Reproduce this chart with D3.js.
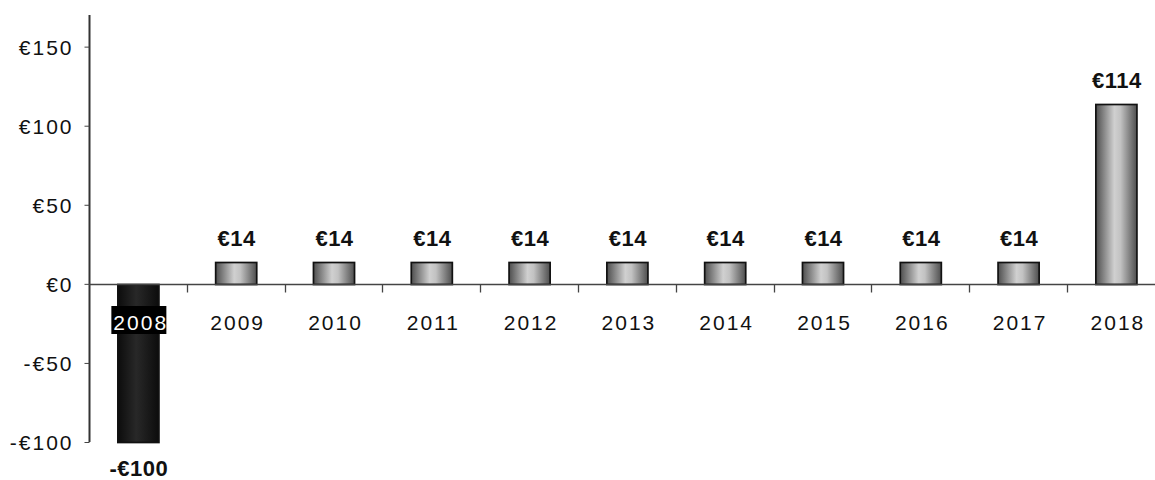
<!DOCTYPE html>
<html><head><meta charset="utf-8">
<script src="https://cdn.jsdelivr.net/npm/d3@7"></script>
<style>body{margin:0;background:#fff}svg{display:block}</style>
</head><body>
<svg id="c" width="1155" height="480"></svg>
<script>
const years = ["2008","2009","2010","2011","2012","2013","2014","2015","2016","2017","2018"];
const values = [-100,14,14,14,14,14,14,14,14,14,114];
const valueLabels = ["-€100","€14","€14","€14","€14","€14","€14","€14","€14","€14","€114"];
const yTicks = [-100,-50,0,50,100,150];
const yTickLabels = ["-€100","-€50","€0","€50","€100","€150"];

const svg = d3.select("#c");
const defs = svg.append("defs");
const g1 = defs.append("linearGradient").attr("id","grey").attr("x1","0").attr("x2","1").attr("y1","0").attr("y2","0");
[["0%","#4e4e4e"],["45%","#d0d0d0"],["60%","#c2c2c2"],["100%","#4e4e4e"]].forEach(s=>g1.append("stop").attr("offset",s[0]).attr("stop-color",s[1]));
const g2 = defs.append("linearGradient").attr("id","dark").attr("x1","0").attr("x2","1").attr("y1","0").attr("y2","0");
[["0%","#0c0c0c"],["45%","#282828"],["100%","#0c0c0c"]].forEach(s=>g2.append("stop").attr("offset",s[0]).attr("stop-color",s[1]));

const x = d3.scaleBand().domain(years).range([89, 89 + 11*97.8]).paddingInner(0.58).paddingOuter(0.29);
const y = d3.scaleLinear().domain([-100,170]).range([442,15]);
const step = x.step();

const font = "'Liberation Sans', Arial, sans-serif";

// bars
svg.selectAll("rect.bar").data(values).enter().append("rect")
  .attr("class","bar")
  .attr("x",(d,i)=>x(years[i])+0.5)
  .attr("width",x.bandwidth())
  .attr("y",d=>Math.round(y(Math.max(0,d)))+0.5)
  .attr("height",d=>Math.abs(Math.round(y(d))-Math.round(y(0))))
  .attr("fill",d=>d<0?"url(#dark)":"url(#grey)")
  .attr("stroke","#111")
  .attr("stroke-width",1.7);

// y axis
const yAxis = d3.axisLeft(y).tickValues(yTicks).tickFormat((d,i)=>yTickLabels[i]).tickSize(5).tickPadding(11);
const ya = svg.append("g").attr("transform","translate(89.5,0)").call(yAxis);
ya.select(".domain").attr("d","M0,15V"+y(-100)).attr("stroke","#333").attr("stroke-width",2);
ya.selectAll(".tick line").attr("stroke","#444");
ya.selectAll("text").attr("font-family",font).attr("font-size",21).attr("letter-spacing","2px").attr("fill","#111").attr("dy","0.36em");

// x axis line at zero
const y0 = Math.round(y(0))+0.5;
const xa = svg.append("g");
xa.append("line").attr("x1",89).attr("x2",1155).attr("y1",y0).attr("y2",y0).attr("stroke","#444").attr("stroke-width",1.3);
xa.selectAll("line.tk").data(years.slice(1)).enter().append("line")
  .attr("class","tk")
  .attr("x1",d=>Math.round(x(d)-x.paddingInner()*step/2)+0.5)
  .attr("x2",d=>Math.round(x(d)-x.paddingInner()*step/2)+0.5)
  .attr("y1",y0).attr("y2",y0+8).attr("stroke","#444").attr("stroke-width",1.3);

// category labels
years.forEach((yr,i)=>{
  const cx = x(yr)+x.bandwidth()/2 + 2;
  if(values[i]<0){
    const bx = x(yr)-6, bw = 55;
    svg.append("clipPath").attr("id","clip"+i).append("rect").attr("x",bx).attr("y",306).attr("width",bw).attr("height",28);
    svg.append("rect").attr("x",bx).attr("y",306).attr("width",bw).attr("height",28).attr("fill","#000");
    svg.append("text").attr("clip-path","url(#clip"+i+")").attr("x",bx+2).attr("y",330)
      .attr("font-family",font).attr("font-size",21).attr("letter-spacing","2px").attr("fill","#fff").text(yr);
  } else {
    svg.append("text").attr("x",cx).attr("y",330).attr("text-anchor","middle")
      .attr("font-family",font).attr("font-size",21).attr("letter-spacing","2px").attr("fill","#111").text(yr);
  }
});

// value labels
svg.selectAll("text.val").data(values).enter().append("text")
  .attr("class","val")
  .attr("x",(d,i)=>x(years[i])+x.bandwidth()/2+1)
  .attr("y",d=>d<0? y(d)+34 : y(d)-16)
  .attr("text-anchor","middle")
  .attr("font-family",font).attr("font-weight","bold").attr("font-size",22).attr("letter-spacing","0.5px")
  .attr("fill","#111")
  .text((d,i)=>valueLabels[i]);
</script>
</body></html>
